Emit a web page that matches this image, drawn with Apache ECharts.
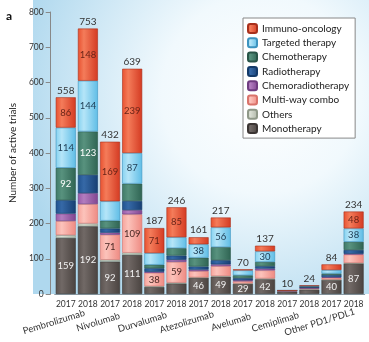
<!DOCTYPE html>
<html>
<head>
<meta charset="utf-8">
<script src="https://cdn.jsdelivr.net/npm/echarts@6/dist/echarts.min.js"></script>
<style>html,body{margin:0;padding:0;background:#fff}#c{width:369px;height:342px}</style>
</head>
<body>
<div id="c"></div>
<script>
// ---- data ----
const years = ['2017','2018','2017','2018','2017','2018','2017','2018','2017','2018','2017','2018','2017','2018'];
const drugs = ['Pembrolizumab','Nivolumab','Durvalumab','Atezolizumab','Avelumab','Cemiplimab','Other PD1/PDL1'];
const yTicks = [0,100,200,300,400,500,600,700,800];

const monotherapy = [159,192,92,111,20,30,46,49,29,42,7,12,40,87];
const others      = [8,8,5,6,2,2,1,2,1,2,1,2,1,1];
const multiway    = [40,55,71,109,38,59,18,28,6,23,1,2,5,24];
const chemorad    = [21,31,6,12,3,6,4,5,3,5,0,1,2,2];
const radio       = [38,52,12,26,10,12,9,12,6,7,1,3,6,11];
const chemo       = [92,123,22,49,10,21,25,37,8,12,0,2,4,23];
const targeted    = [114,144,55,87,33,31,38,56,14,30,0,1,10,38];
const immuno      = [86,148,169,239,71,85,20,28,3,16,0,1,16,48];
const totals      = [558,753,432,639,187,246,161,217,70,137,10,24,84,234];

// which bars show a value label inside the segment
const labelledMono     = [0,1,2,3,6,7,8,9,12,13];
const labelledMulti    = [2,3,4,5];
const labelledChemo    = [0,1];
const labelledTargeted = [0,1,3,6,7,9,13];
const labelledImmuno   = [0,1,2,3,4,5,13];

// ---- styling ----
const FONT = 'Lato';
function grad(light, base, dark){
  return {type:'linear',x:0,y:0,x2:1,y2:0,colorStops:[
    {offset:0,color:base},{offset:0.3,color:light},{offset:1,color:dark}]};
}
const segDefs = [
  {name:'Monotherapy', data:monotherapy, c:grad('#716966','#5a524f','#4a4340'), b:'#3b3533', lab:labelledMono, lc:'#f2f2f2'},
  {name:'Others', data:others, c:grad('#dadfd4','#c3c9bb','#aeb5a6'), b:'#8f9888', lab:[], lc:'#333'},
  {name:'Multi-way combo', data:multiway, c:grad('#fcc3bb','#f6a39b','#ee8a82'), b:'#d9736b', lab:labelledMulti, lc:'#4a2824'},
  {name:'Chemoradiotherapy', data:chemorad, c:grad('#b27dbf','#9a5aa8','#804590'), b:'#6f3c80', lab:[], lc:'#fff'},
  {name:'Radiotherapy', data:radio, c:grad('#3669a7','#20528f','#173f73'), b:'#143a68', lab:[], lc:'#fff'},
  {name:'Chemotherapy', data:chemo, c:grad('#58927e','#3f7a68','#2f6453'), b:'#2a5548', lab:labelledChemo, lc:'#ffffff'},
  {name:'Targeted therapy', data:targeted, c:grad('#b5e5f8','#86d2f0','#5fbde6'), b:'#3d93bf', lab:labelledTargeted, lc:'#1d3b52'},
  {name:'Immuno-oncology', data:immuno, c:grad('#f47c5a','#e8502f','#d43a22'), b:'#a8301c', lab:labelledImmuno, lc:'#6a2418'}
];

const series = segDefs.map(s => ({
  name: s.name,
  type: 'bar',
  stack: 'total',
  barWidth: 20,
  data: s.data,
  itemStyle: {color: s.c, borderColor: s.b, borderWidth: 0.6},
  label: {
    show: true,
    position: 'inside',
    color: s.lc,
    fontFamily: FONT,
    fontSize: 9.5,
    formatter: p => s.lab.indexOf(p.dataIndex) >= 0 ? String(p.value) : ''
  },
  emphasis: {disabled: true}
}));
series.push({
  name: 'total',
  type: 'bar',
  stack: 'total',
  barWidth: 20,
  data: totals.map(() => 0),
  itemStyle: {color: 'rgba(0,0,0,0)'},
  label: {
    show: true, position: 'top', distance: 2,
    color: '#333', fontFamily: FONT, fontSize: 10,
    formatter: p => String(totals[p.dataIndex])
  },
  emphasis: {disabled: true}
});

const chart = echarts.init(document.getElementById('c'), null, {renderer: 'canvas'});
chart.setOption({
  animation: false,
  title: {text: 'a', left: 1, top: 5, textStyle: {fontSize: 12, fontWeight: 'bold', color: '#111', fontFamily: FONT}},
  graphic: [{
    type: 'rect', left: 33, top: 0, z: -10, silent: true,
    shape: {width: 336, height: 294},
    style: {fill: {type:'radial', x:0.68, y:0.32, r:0.85, colorStops:[
      {offset:0,color:'#ffffff'},{offset:0.4,color:'#f1f9fd'},{offset:1,color:'#afd8ee'}]}}
  }],
  grid: {left: 36.8, right: 4.3, top: 12, bottom: 48, containLabel: false},
  legend: {
    orient: 'vertical', left: 243, top: 18,
    data: segDefs.map(s => s.name).reverse(),
    itemWidth: 9, itemHeight: 9, itemGap: 3.3,
    padding: [5, 6, 4, 4],
    backgroundColor: '#fff', borderColor: '#888', borderWidth: 1,
    textStyle: {fontSize: 10, color: '#222', fontFamily: FONT, lineHeight: 10},
    selectedMode: false
  },
  xAxis: [{
    type: 'category', data: years,
    axisLine: {lineStyle: {color: '#8a9aa4', width: 1}},
    axisTick: {alignWithLabel: true, length: 4, lineStyle: {color: '#777'}},
    axisLabel: {fontSize: 8.5, color: '#333', fontFamily: FONT, margin: 6, interval: 0}
  }, {
    type: 'category', data: drugs, position: 'bottom', offset: 12,
    axisLine: {show: false}, axisTick: {show: false},
    axisLabel: {fontSize: 9.5, color: '#333', fontFamily: FONT, margin: 9, interval: 0,
      rotate: 17, align: 'center', verticalAlign: 'middle', padding: [0, 48, 0, 0]}
  }],
  yAxis: {
    type: 'value', min: yTicks[0], max: yTicks[yTicks.length-1], interval: 100,
    offset: 4,
    name: 'Number of active trials', nameLocation: 'middle', nameGap: 21,
    nameTextStyle: {fontSize: 10, color: '#222', fontFamily: FONT},
    axisLine: {show: true, lineStyle: {color: '#888'}},
    axisTick: {show: true, length: 5, lineStyle: {color: '#888'}},
    axisLabel: {fontSize: 8.5, color: '#333', fontFamily: FONT, margin: 7},
    splitLine: {show: false}
  },
  series: series
});
</script>
</body>
</html>
